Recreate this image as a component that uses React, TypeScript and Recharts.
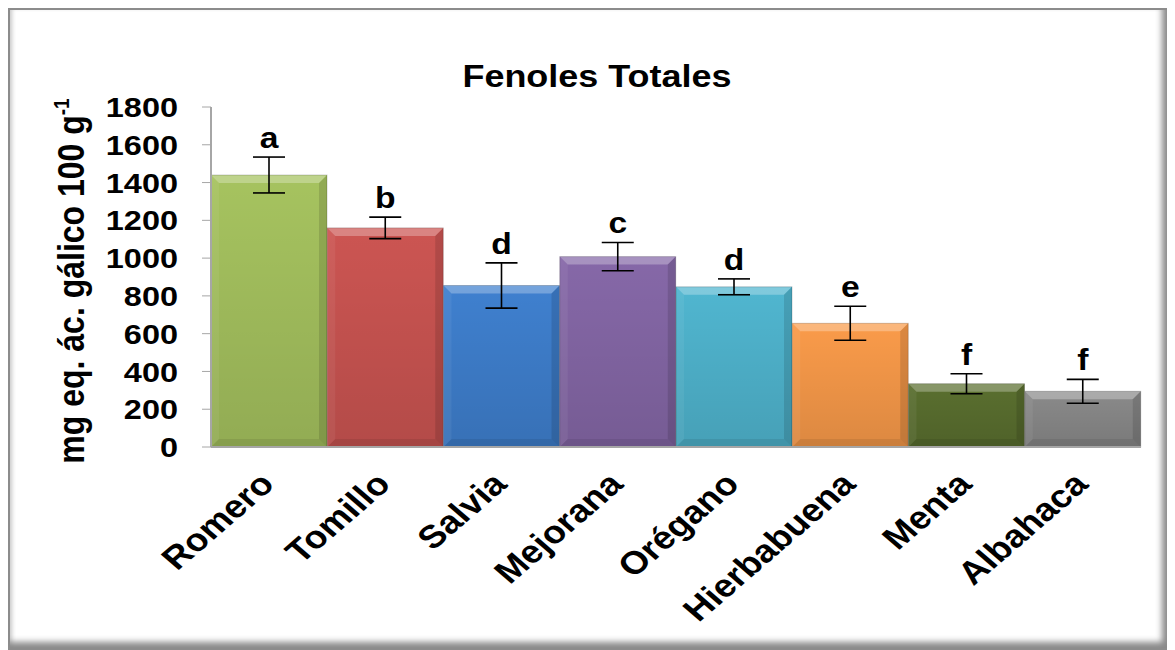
import React from "react";
import { Bar, BarChart, ErrorBar, LabelList, XAxis, YAxis } from "recharts";

const plants = ["Romero", "Tomillo", "Salvia", "Mejorana", "Orégano", "Hierbabuena", "Menta", "Albahaca"];
const fenoles = [1440, 1160, 855, 1008, 848, 655, 335, 295];
const desv = [95, 57, 120, 75, 42, 90, 53, 63];
const letras = ["a", "b", "d", "c", "d", "e", "f", "f"];
const colores = ["#a6c35f", "#cc5552", "#3f80cf", "#8668a8", "#50b6d0", "#fa9b4a", "#5a6f2f", "#8a8a8a"];
const yTicks = [0, 200, 400, 600, 800, 1000, 1200, 1400, 1600, 1800];

const data = plants.map((name, i) => ({ name, value: fenoles[i], err: desv[i], letra: letras[i] }));

const font = "'Liberation Sans', Arial, sans-serif";
const sx = 1.16; // the original text is a bit wider than Arial

function BevelBar(props: any) {
  const { x, y, width, height, index } = props;
  if (!height || height <= 0) return null;
  const b = Math.min(8, height / 2);
  const r = x + width;
  const btm = y + height;
  return (
    <g>
      <rect x={x} y={y} width={width} height={height} fill={colores[index]} />
      <rect x={x} y={y} width={width} height={height} fill="url(#shade)" />
      <polygon points={`${x},${y} ${r},${y} ${r - b},${y + b} ${x + b},${y + b}`} fill="#fff" fillOpacity={0.28} />
      <polygon points={`${x},${y} ${x + b},${y + b} ${x + b},${btm - b} ${x},${btm}`} fill="#fff" fillOpacity={0.06} />
      <polygon points={`${r},${y} ${r - b},${y + b} ${r - b},${btm - b} ${r},${btm}`} fill="#000" fillOpacity={0.12} />
      <polygon points={`${x},${btm} ${x + b},${btm - b} ${r - b},${btm - b} ${r},${btm}`} fill="#000" fillOpacity={0.08} />
      <rect x={x} y={y} width={width} height={height} fill="none" stroke="#000" strokeOpacity={0.18} />
    </g>
  );
}

function LetterLabel(props: any) {
  const { x, y, width, height, index } = props;
  const d = data[index];
  const errPx = (height * d.err) / d.value;
  const cx = x + width / 2;
  const cy = y - errPx - 9;
  return (
    <text transform={`translate(${cx},${cy}) scale(${sx},1)`} textAnchor="middle" fontFamily={font} fontWeight="bold" fontSize={29} fill="#000">
      {d.letra}
    </text>
  );
}

function XTick(props: any) {
  const { x, y, payload } = props;
  return (
    <text
      transform={`translate(${x + 7},${y + 31}) scale(${sx},1) rotate(-45)`}
      textAnchor="end"
      fontFamily={font}
      fontWeight="bold"
      fontSize={32}
      fill="#000"
    >
      {payload.value}
    </text>
  );
}

function YTick(props: any) {
  const { x, y, payload } = props;
  return (
    <text transform={`translate(${x},${y}) scale(${sx},1)`} dy="0.36em" textAnchor="end" fontFamily={font} fontWeight="bold" fontSize={28} fill="#000">
      {payload.value}
    </text>
  );
}

function YLabel(props: any) {
  const vb = props.viewBox || {};
  const cx = 74;
  const cy = (vb.y ?? 97) + (vb.height ?? 340) / 2 + 4;
  return (
    <text transform={`translate(${cx},${cy}) scale(${sx},1) rotate(-90)`} textAnchor="middle" fontFamily={font} fontWeight="bold" fontSize={32} fill="#000">
      mg eq. ác. gálico 100 g
      <tspan dy={-13} fontSize={19}>-1</tspan>
    </text>
  );
}

export default function App() {
  return (
    <div
      style={{
        position: "relative",
        boxSizing: "border-box",
        width: 1164,
        height: 642,
        border: "2px solid #8c8c8c",
        boxShadow: "inset -11px -9px 6px -3px #8a8a8a, inset 4px 0 4px -2px #c8c8c8",
        background: "#fff",
      }}
    >
      <div
        style={{
          position: "absolute",
          top: 51,
          left: 387,
          width: 400,
          textAlign: "center",
          fontFamily: font,
          fontWeight: "bold",
          fontSize: 31,
          lineHeight: "31px",
          color: "#000",
          transform: `scaleX(${sx})`,
        }}
      >
        Fenoles Totales
      </div>
      <BarChart width={1151} height={629} data={data} margin={{ top: 97, right: 20, left: 0, bottom: 0 }} barCategoryGap={0} barGap={0}>
        <defs>
          <linearGradient id="shade" x1="0" y1="0" x2="0" y2="1">
            <stop offset="0%" stopColor="#000" stopOpacity={0} />
            <stop offset="100%" stopColor="#000" stopOpacity={0.12} />
          </linearGradient>
        </defs>
        <XAxis
          dataKey="name"
          interval={0}
          height={192}
          axisLine={{ stroke: "#a6a6a6", strokeWidth: 2 }}
          tickLine={false}
          tick={<XTick />}
        />
        <YAxis
          width={201}
          domain={[0, 1800]}
          ticks={yTicks}
          interval={0}
          axisLine={{ stroke: "#a6a6a6", strokeWidth: 2 }}
          tickLine={{ stroke: "#a6a6a6" }}
          tickSize={9}
          tickMargin={24}
          tick={<YTick />}
          label={<YLabel />}
        />
        <Bar dataKey="value" shape={<BevelBar />} isAnimationActive={false}>
          <ErrorBar dataKey="err" width={16} stroke="#000" strokeWidth={1.6} />
          <LabelList dataKey="letra" content={<LetterLabel />} />
        </Bar>
      </BarChart>
    </div>
  );
}
